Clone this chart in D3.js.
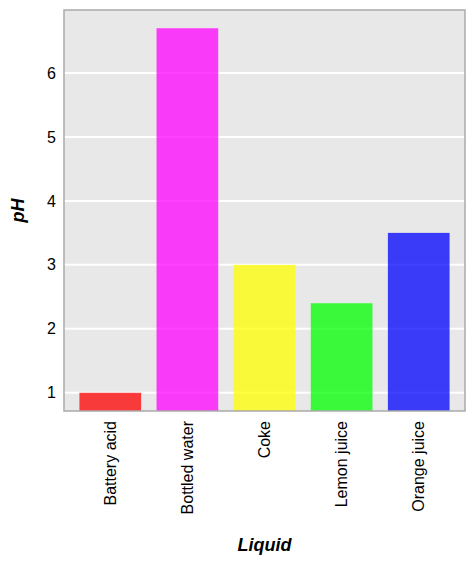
<!DOCTYPE html>
<html>
<head>
<meta charset="utf-8">
<script src="https://cdn.jsdelivr.net/npm/d3@7"></script>
<style>
  body { margin: 0; background: #fff; }
  text { font-family: "Liberation Sans", Arial, sans-serif; }
</style>
</head>
<body>
<svg id="chart"></svg>
<script>
const liquids = ["Battery acid", "Bottled water", "Coke", "Lemon juice", "Orange juice"];
const phValues = [1.0, 6.7, 3.0, 2.4, 3.5];
const barColors = ["#ff0000", "#ff00ff", "#ffff00", "#00ff00", "#0000ff"];
const yTicks = [1, 2, 3, 4, 5, 6];

const width = 475;
const height = 564;
const margin = { top: 10, right: 10, bottom: 153, left: 64 };

const svg = d3.select("#chart")
  .attr("width", width)
  .attr("height", height);

// y domain padded 5% like ggplot
const yMin = d3.min(phValues), yMax = d3.max(phValues);
const pad = (yMax - yMin) * 0.05;

const xScale = d3.scaleBand()
  .domain(liquids)
  .range([margin.left, width - margin.right])
  .padding(0.2);

const yScale = d3.scaleLinear()
  .domain([yMin - pad, yMax + pad])
  .range([height - margin.bottom, margin.top]);

// panel background
svg.append("rect")
  .attr("x", margin.left)
  .attr("y", margin.top)
  .attr("width", width - margin.left - margin.right)
  .attr("height", height - margin.top - margin.bottom)
  .attr("fill", "#e8e8e8");

// gridlines
svg.append("g")
  .selectAll("line")
  .data(yTicks)
  .enter().append("line")
  .attr("x1", margin.left)
  .attr("x2", width - margin.right)
  .attr("y1", d => yScale(d))
  .attr("y2", d => yScale(d))
  .attr("stroke", "#fff")
  .attr("stroke-width", 2);

// bars
svg.append("g")
  .selectAll("rect")
  .data(liquids)
  .enter().append("rect")
  .attr("x", d => xScale(d))
  .attr("y", (d, i) => yScale(phValues[i]))
  .attr("width", xScale.bandwidth())
  .attr("height", (d, i) => yScale.range()[0] - yScale(phValues[i]))
  .attr("fill", (d, i) => barColors[i])
  .attr("fill-opacity", 0.75);

// frame
svg.append("rect")
  .attr("x", margin.left)
  .attr("y", margin.top)
  .attr("width", width - margin.left - margin.right)
  .attr("height", height - margin.top - margin.bottom)
  .attr("fill", "none")
  .attr("stroke", "#aaa")
  .attr("stroke-width", 1.5);

// y axis
const yAxis = svg.append("g")
  .attr("transform", `translate(${margin.left}, 0)`)
  .call(d3.axisLeft(yScale).tickValues(yTicks).tickFormat(d3.format("d")).tickSize(0).tickPadding(8));
yAxis.select(".domain").remove();
yAxis.selectAll("text")
  .attr("font-size", 16)
  .attr("fill", "#000")
  .style("font-family", "'Liberation Sans', Arial, sans-serif");

// x axis
const xAxis = svg.append("g")
  .attr("transform", `translate(0, ${height - margin.bottom})`)
  .call(d3.axisBottom(xScale).tickSize(0));
xAxis.select(".domain").remove();
xAxis.selectAll("text")
  .attr("font-size", 16)
  .attr("fill", "#000")
  .style("font-family", "'Liberation Sans', Arial, sans-serif")
  .attr("transform", "rotate(-90)")
  .attr("x", -10)
  .attr("y", 0)
  .attr("dy", "0.35em")
  .style("text-anchor", "end");

// axis titles
svg.append("text")
  .attr("x", (margin.left + width - margin.right) / 2)
  .attr("y", 551)
  .attr("text-anchor", "middle")
  .attr("font-size", 18)
  .attr("font-weight", "bold")
  .attr("font-style", "italic")
  .text("Liquid");

svg.append("text")
  .attr("transform", `translate(24, ${(margin.top + height - margin.bottom) / 2}) rotate(-90)`)
  .attr("text-anchor", "middle")
  .attr("font-size", 18)
  .attr("font-weight", "bold")
  .attr("font-style", "italic")
  .text("pH");
</script>
</body>
</html>
